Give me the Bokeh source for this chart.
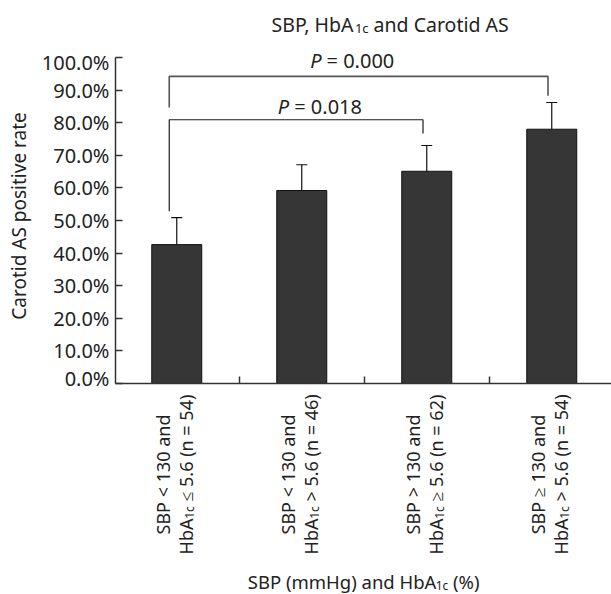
import math
from bokeh.plotting import figure
from bokeh.layouts import column
from bokeh.models import (ColumnDataSource, Whisker, TeeHead, Label, FixedTicker,
                          NumeralTickFormatter, Range1d)
from bokeh.embed import file_html
from bokeh.resources import INLINE

# ---------------- data ----------------
sbp_part = ["SBP < 130 and", "SBP < 130 and", "SBP > 130 and", "SBP \u2265 130 and"]
hba_relation = ["\u2264 5.6", "> 5.6", "\u2265 5.6", "> 5.6"]
n_values = [54, 46, 62, 54]
positive_rate = [0.426, 0.592, 0.651, 0.780]
rate_upper = [0.509, 0.671, 0.730, 0.862]
y_ticks = [0.0, 0.1, 0.2, 0.3, 0.4, 0.5, 0.6, 0.7, 0.8, 0.9, 1.0]
cmp_from = [0, 0]
cmp_to = [2, 3]
cmp_p = ["0.018", "0.000"]
cmp_bar_y = [0.809, 0.942]
cmp_left_end = [0.528, 0.847]
cmp_right_end = [0.767, 0.883]

# ---------------- layout helpers ----------------
FONT = "Noto Sans"
TXT = "#222222"
NB = "\u00a0"
W = 611
FL = 115                       # frame left (page px)
TOP_H = 48                     # title strip height (page px)
X0, B0, SX, SY = 113.75, 383.0, 125.0, 326.0   # page px of data x=0 / y=0, px per unit
XSTART = (FL - X0) / SX
XEND = XSTART + (W - FL) / SX
BC = 6.5                       # baseline correction of Label text (px)


def dx(px):
    return (px - X0) / SX


def dy(py):
    return (B0 - py) / SY


CW = {' ': 0.26, NB: 0.26, ',': 0.244, '.': 0.266, '(': 0.295, ')': 0.295, '%': 0.828,
      '<': 0.572, '>': 0.572, '=': 0.572, '\u2264': 0.572, '\u2265': 0.572,
      'A': 0.633, 'B': 0.648, 'C': 0.631, 'H': 0.738, 'P': 0.603, 'S': 0.539,
      'a': 0.556, 'b': 0.613, 'c': 0.476, 'd': 0.613, 'g': 0.613, 'm': 0.94,
      'n': 0.614, 'o': 0.604, 'r': 0.408, 's': 0.477, 't': 0.353, 'i': 0.253,
      'v': 0.5, 'e': 0.561, 'p': 0.613}


def tw(s, size):
    return sum(CW.get(ch, 0.572 if ch.isdigit() else 0.55) for ch in s) * size


xr = Range1d(XSTART, XEND)


def blank_fig(height, y_top, y_bottom):
    f = figure(width=W, height=height, x_range=xr, y_range=Range1d(y_bottom, y_top),
               toolbar_location=None, output_backend="svg",
               x_axis_location=None, y_axis_location=None,
               min_border_left=FL, min_border_right=0, min_border_top=0,
               min_border_bottom=0)
    f.outline_line_color = None
    f.xgrid.grid_line_color = None
    f.ygrid.grid_line_color = None
    return f


# ---------------- main figure (page y 48..391) ----------------
p = figure(width=W, height=343, x_range=xr, y_range=Range1d(0, dy(TOP_H)),
           toolbar_location=None, output_backend="svg",
           min_border_left=FL, min_border_right=0, min_border_top=0, min_border_bottom=8)
p.outline_line_color = None
p.xgrid.grid_line_color = None
p.ygrid.grid_line_color = None

xs = [i + 0.5 for i in range(len(positive_rate))]
src = ColumnDataSource(dict(x=xs, rate=positive_rate, upper=rate_upper))

p.vbar(x="x", top="rate", width=0.4, bottom=0, source=src,
       fill_color="#363636", line_color="#111111", line_width=1)

wh = Whisker(base="x", lower="rate", upper="upper", source=src,
             line_color="#111111", line_width=1.2,
             upper_head=TeeHead(size=11, line_color="#111111", line_width=1.2),
             lower_head=None)
p.add_layout(wh)

br_color = ["#1a1a1a", "#555555"]
br_width = [1.2, 1.6]
for k in range(len(cmp_p)):
    xl = xs[cmp_from[k]] - 0.06
    xrgt = xs[cmp_to[k]] - 0.03
    p.line(x=[xl, xl, xrgt, xrgt],
           y=[cmp_left_end[k], cmp_bar_y[k], cmp_bar_y[k], cmp_right_end[k]],
           line_color=br_color[k], line_width=br_width[k])

p_label_pos = [(288.7, 112.7), (321.0, 66.7)]
for k in range(len(cmp_p)):
    px, py = p_label_pos[k]
    p.add_layout(Label(x=dx(px), y=dy(py - BC), text="P", text_font=FONT, text_font_size="20px",
                       text_font_style="italic", text_align="right", text_baseline="alphabetic",
                       text_color=TXT))
    p.add_layout(Label(x=dx(px), y=dy(py - BC), x_offset=5, text="= " + cmp_p[k], text_font=FONT,
                       text_font_size="20px", text_align="left", text_baseline="alphabetic",
                       text_color=TXT))

p.yaxis.ticker = FixedTicker(ticks=y_ticks)
p.yaxis.bounds = (0, 1)
p.yaxis.formatter = NumeralTickFormatter(format="0.0%")
p.yaxis.major_tick_in = 7
p.yaxis.major_tick_out = 0
p.yaxis.minor_tick_line_color = None
p.yaxis.major_label_standoff = 6
p.yaxis.major_label_text_font = FONT
p.yaxis.major_label_text_font_size = "20px"
p.yaxis.major_label_text_color = TXT
p.yaxis.axis_label = "Carotid AS positive rate"
p.yaxis.axis_label_text_font = FONT
p.yaxis.axis_label_text_font_size = "19px"
p.yaxis.axis_label_text_font_style = "normal"
p.yaxis.axis_label_text_color = TXT
p.yaxis.axis_label_standoff = 7

p.xaxis.ticker = FixedTicker(ticks=[1, 2, 3])
p.xaxis.major_label_overrides = {1: "", 2: "", 3: ""}
p.xaxis.major_label_text_font_size = "0px"
p.xaxis.major_label_standoff = 0
p.xaxis.major_tick_in = 7
p.xaxis.major_tick_out = 0
p.xaxis.minor_tick_line_color = None

for ax in (p.xaxis, p.yaxis):
    ax.axis_line_color = "#333333"
    ax.axis_line_width = 1.5
    ax.major_tick_line_color = "#333333"
    ax.major_tick_line_width = 1.5


def htext(f, parts, x_start, baseline):
    cur = x_start
    for text, size, shift in parts:
        f.add_layout(Label(x=dx(cur), y=baseline + shift - BC, text=text, text_font=FONT,
                           text_font_size=f"{size}px",
                           text_align="left", text_baseline="alphabetic", text_color=TXT))
        cur += tw(text, size)


# ---------------- title figure (page y 0..48) ----------------
top = blank_fig(TOP_H, 0, TOP_H)
title_parts = [("SBP, HbA", 19.5, 0), ("1c", 13, 4), (NB + "and Carotid AS", 19.5, 0)]
htext(top, title_parts, 271.0, 30.0)

# ---------------- bottom figure (page y 391..594) ----------------
bot = blank_fig(203, 391, 594)
xt_parts = [("SBP (mmHg) and HbA", 18.5, 0), ("1c", 12, 4), (NB + "(%)", 18.5, 0)]
xt_w = sum(tw(t, s) for t, s, _ in xt_parts)
htext(bot, xt_parts, 363.0 - xt_w / 2, 587.0)

CF, CS = 18, 12
LC = 474.0
SHIFT = -4.0
for i in range(len(xs)):
    bot.add_layout(Label(x=xs[i], y=LC, x_offset=-3.25 - BC + SHIFT, text=sbp_part[i],
                         text_font=FONT, text_font_size=f"{CF}px", text_align="center",
                         text_baseline="alphabetic", angle=math.pi / 2, text_color=TXT))
    parts = [("HbA", CF, 0), ("1c", CS, 4),
             (NB + hba_relation[i] + " (n = " + str(n_values[i]) + ")", CF, 0)]
    total = sum(tw(t, s) for t, s, _ in parts)
    cur = LC + total / 2
    for t, s, sh in parts:
        bot.add_layout(Label(x=xs[i], y=cur, x_offset=19.45 - BC + SHIFT + sh, text=t,
                             text_font=FONT, text_font_size=f"{s}px", text_align="left",
                             text_baseline="alphabetic", angle=math.pi / 2, text_color=TXT))
        cur -= tw(t, s)

layout = column(top, p, bot, spacing=0)
open("out.html", "w").write(file_html(layout, INLINE))
